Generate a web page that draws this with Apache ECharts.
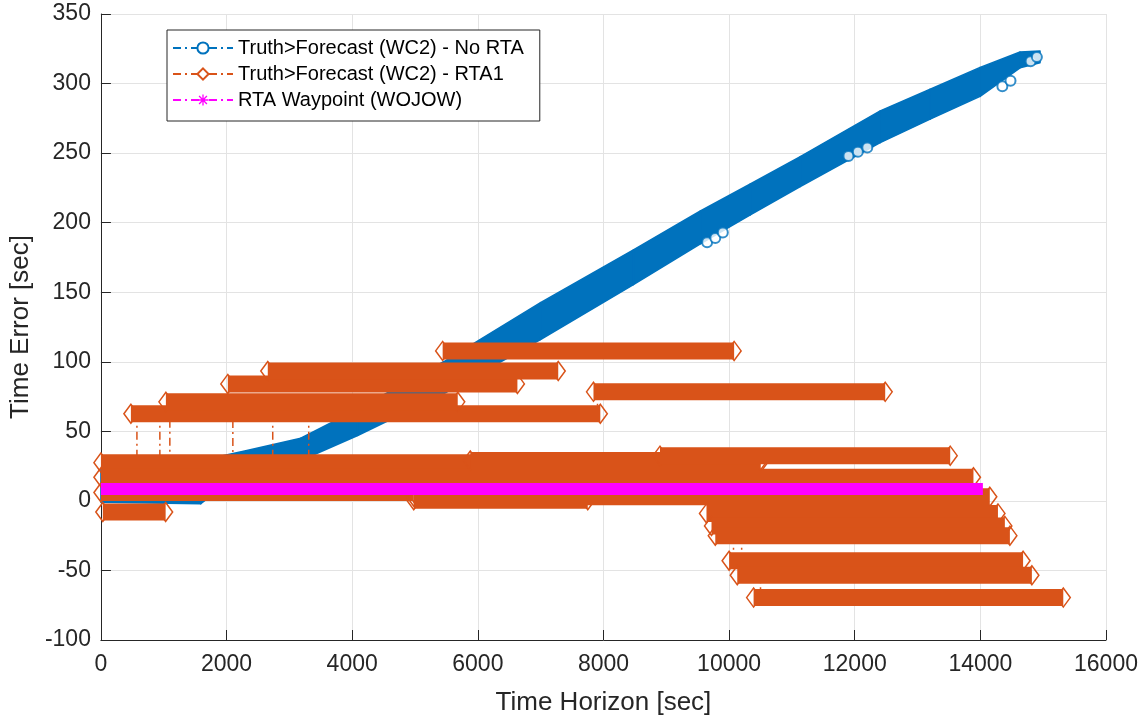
<!DOCTYPE html>
<html><head><meta charset="utf-8">
<script src="https://cdn.jsdelivr.net/npm/echarts@6/dist/echarts.min.js"></script>
<style>html,body{margin:0;padding:0;background:#fff}#c{width:1148px;height:721px}</style>
</head><body><div id="c"></div>
<script>
// ---- data ----
// Blue band (Truth>Forecast No RTA): sampled x with lower / upper envelope of the marker cloud
const blueX     = [0, 1590, 2306, 3181, 4087, 5455, 6998, 8477, 9543, 10338, 11133, 12406, 13201, 13996, 14632, 14950];
const blueUpper = [23, 29, 36, 45, 66, 100, 142.5, 180.5, 208.4, 227.8, 247.5, 280.4, 295.9, 311.6, 322.7, 323.4];
const blueLower = [-1, -2, 23, 29, 47, 77, 116, 155.4, 184.8, 205.6, 226, 257.5, 274.4, 290.8, 311.3, 314.9];
// isolated circle markers visible at the band edges
const blueRingX = [9650, 9780, 9900, 11900, 12050, 12200, 14350, 14480, 14800, 14900];
const blueRingY = [186, 189, 193, 248, 251, 254, 298, 302, 316, 319];

// Orange RTA1 bands: start, end, level
const rtaStart = [0, 0, 0, 30, 4980, 4980, 5880, 8900, 477, 1034, 2020, 2656, 5440, 7841, 9640, 9720, 9780, 10000, 10130, 10390];
const rtaEnd   = [10500, 13890, 4980, 1030, 7750, 14150, 10500, 13520, 7950, 5680, 6630, 7280, 10080, 12485, 14280, 14390, 14470, 14680, 14820, 15320];
const rtaLevel = [27.5, 17, 6, -8, 0.5, 3, 29, 32.5, 62.6, 71.2, 84.1, 93.4, 107.8, 78.4, -9, -18, -25, -43, -53.5, -69.5];

// dash-dot connectors of the RTA1 series
const linkX    = [573, 938, 1097, 2100, 2735, 3308, 7905, 10070, 10200, 10500];
const linkFrom = [62.6, 62.6, 71.2, 84.1, 62.6, 62.6, 78.4, -25, -25, -53.5];
const linkTo   = [27.5, 27.5, 27.5, 27.5, 27.5, 27.5, 62.6, -43, -43, -69.5];

// RTA waypoint (WOJOW)
const wpStart = [0];
const wpEnd   = [14040];
const wpLevel = [8.5];

const names = ['Truth>Forecast (WC2) - No RTA', 'Truth>Forecast (WC2) - RTA1', 'RTA Waypoint (WOJOW)'];
const BLUE = '#0072BD', ORANGE = '#D95319', PINK = '#FF00FF';

// ---- build series data ----
const blueSeg = [];
for (let i = 0; i < blueX.length - 1; i++) {
  blueSeg.push([blueX[i], blueLower[i], blueUpper[i], blueX[i+1], blueLower[i+1], blueUpper[i+1]]);
}
const blueRing = blueRingX.map((x, i) => [x, blueRingY[i]]);
const rtaBands = rtaStart.map((s, i) => [s, rtaEnd[i], rtaLevel[i]]);
const links = linkX.map((x, i) => [x, linkFrom[i], linkTo[i]]);
const wpBands = wpStart.map((s, i) => [s, wpEnd[i], wpLevel[i]]);

function bandRenderer(h, color, diamonds) {
  return function (params, api) {
    const p0 = api.coord([api.value(0), api.value(2)]);
    const p1 = api.coord([api.value(1), api.value(2)]);
    const children = [];
    if (diamonds) {
      [p0, p1].forEach(p => children.push({
        type: 'polygon',
        shape: { points: [[p[0]-7, p[1]], [p[0], p[1]-9.5], [p[0]+7, p[1]], [p[0], p[1]+9.5]] },
        style: { fill: 'none', stroke: color, lineWidth: 1.5 }
      }));
    }
    children.push({
      type: 'rect',
      shape: { x: p0[0], y: p0[1] - h/2, width: p1[0] - p0[0], height: h },
      style: { fill: color }
    });
    return { type: 'group', children };
  };
}

const axisFont = 'Liberation Sans, Arial, Helvetica, sans-serif';
const chart = echarts.init(document.getElementById('c'), null, { renderer: 'canvas' });
chart.setOption({
  animation: false,
  backgroundColor: '#fff',
  grid: { left: 100, right: 42, top: 14, bottom: 79, containLabel: false },
  xAxis: {
    type: 'value', min: 0, max: 16000, interval: 2000,
    name: 'Time Horizon [sec]', nameLocation: 'middle', nameGap: 50,
    nameTextStyle: { fontSize: 26, color: '#262626', fontFamily: axisFont },
    axisLine: { onZero: false, lineStyle: { color: '#262626', width: 1 } },
    axisTick: { inside: true, length: 10, lineStyle: { color: '#262626' } },
    axisLabel: { fontSize: 23, color: '#262626', margin: 13, fontFamily: axisFont,
                 formatter: v => String(v) },
    splitLine: { show: true, lineStyle: { color: '#E3E3E3', width: 1 } }
  },
  yAxis: {
    type: 'value', min: -100, max: 350, interval: 50,
    name: 'Time Error [sec]', nameLocation: 'middle', nameGap: 61,
    nameTextStyle: { fontSize: 26, color: '#262626', fontFamily: axisFont },
    axisLine: { show: true, onZero: false, lineStyle: { color: '#262626', width: 1 } },
    axisTick: { show: true, inside: true, length: 10, lineStyle: { color: '#262626' } },
    axisLabel: { fontSize: 23, color: '#262626', margin: 10, fontFamily: axisFont,
                 formatter: v => String(v) },
    splitLine: { show: true, lineStyle: { color: '#E3E3E3', width: 1 } }
  },
  legend: {
    data: names, orient: 'vertical', left: 167, top: 30,
    itemWidth: 60, itemHeight: 14, itemGap: 6,
    padding: [8, 16, 11, 5],
    borderColor: '#262626', borderWidth: 1, backgroundColor: '#fff', borderRadius: 0,
    textStyle: { fontSize: 20, lineHeight: 20, color: '#000', fontFamily: axisFont },
    selectedMode: false
  },
  series: [
    {
      name: 'blueBand', type: 'custom', data: blueSeg, silent: true,
      encode: { x: [0, 3], y: [1, 2, 4, 5] },
      renderItem: function (params, api) {
        const a = api.coord([api.value(0), api.value(2)]);
        const b = api.coord([api.value(3), api.value(5)]);
        const c = api.coord([api.value(3), api.value(4)]);
        const d = api.coord([api.value(0), api.value(1)]);
        return { type: 'polygon', shape: { points: [a, b, c, d] },
                 style: { fill: BLUE, stroke: BLUE, lineWidth: 1.5, lineJoin: 'round' } };
      }
    },
    {
      name: 'blueRings', type: 'scatter', data: blueRing, silent: true,
      symbol: 'emptyCircle', symbolSize: 10,
      itemStyle: { color: BLUE, borderColor: BLUE, borderWidth: 1.3 }
    },
    {
      name: 'rtaLinks', type: 'custom', data: links, silent: true,
      encode: { x: 0, y: [1, 2] },
      renderItem: function (params, api) {
        const a = api.coord([api.value(0), api.value(1)]);
        const b = api.coord([api.value(0), api.value(2)]);
        return { type: 'line', shape: { x1: a[0], y1: a[1], x2: b[0], y2: b[1] },
                 style: { stroke: ORANGE, lineWidth: 1.5, lineDash: [8, 4, 2, 4] } };
      }
    },
    {
      name: 'rtaBands', type: 'custom', data: rtaBands, silent: true,
      encode: { x: [0, 1], y: 2 },
      renderItem: bandRenderer(17, ORANGE, true)
    },
    {
      name: 'wpBand', type: 'custom', data: wpBands, silent: true,
      encode: { x: [0, 1], y: 2 },
      renderItem: bandRenderer(12, PINK, false)
    },
    // legend entries
    {
      name: names[0], type: 'line', data: [],
      symbol: 'emptyCircle', symbolSize: 12,
      lineStyle: { color: BLUE, width: 1.5, type: [8, 4, 2, 4] },
      itemStyle: { color: BLUE, borderColor: BLUE, borderWidth: 1.5 }
    },
    {
      name: names[1], type: 'line', data: [],
      symbol: 'emptyDiamond', symbolSize: [13, 18],
      lineStyle: { color: ORANGE, width: 1.5, type: [8, 4, 2, 4] },
      itemStyle: { color: ORANGE, borderColor: ORANGE, borderWidth: 1.5 }
    },
    {
      name: names[2], type: 'line', data: [],
      symbol: 'path://M-0.7,-6L0.7,-6L0.7,6L-0.7,6Z M-6,-0.7L6,-0.7L6,0.7L-6,0.7Z M-4.7,-3.7L-3.7,-4.7L4.7,3.7L3.7,4.7Z M3.7,-4.7L4.7,-3.7L-3.7,4.7L-4.7,3.7Z',
      symbolSize: 12,
      lineStyle: { color: PINK, width: 1.5, type: [8, 4, 2, 4] },
      itemStyle: { color: PINK, borderColor: PINK, borderWidth: 0 }
    }
  ]
});
</script>
</body></html>
